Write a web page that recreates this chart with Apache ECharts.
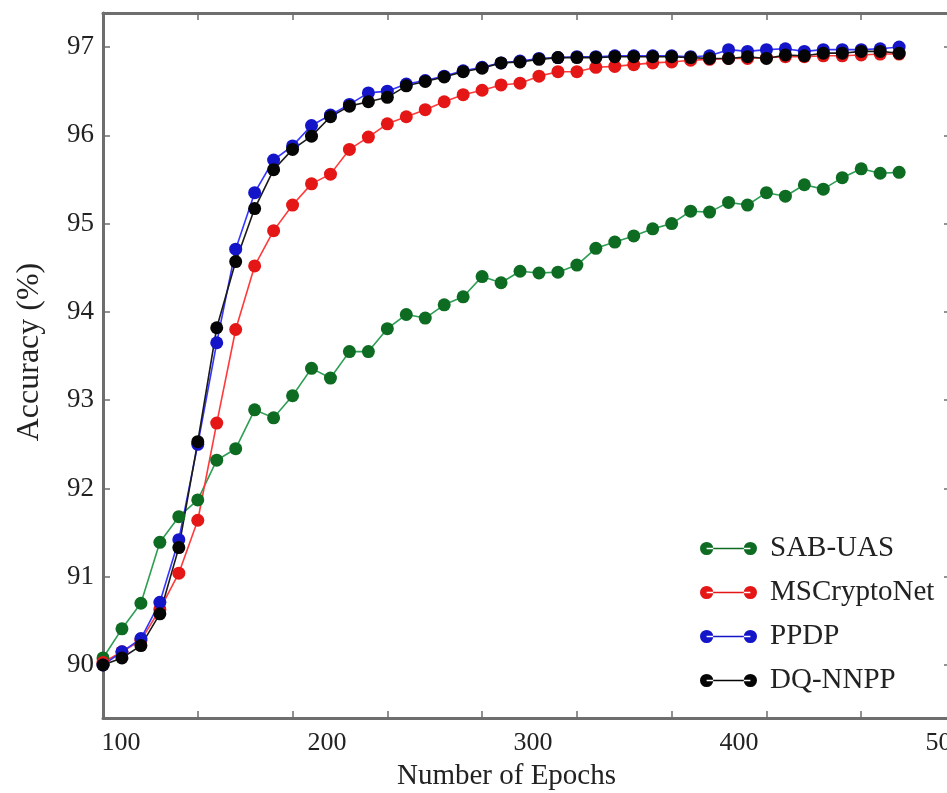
<!DOCTYPE html>
<html>
<head>
<meta charset="utf-8">
<script src="https://cdn.jsdelivr.net/npm/echarts@6/dist/echarts.min.js"></script>
<style>
html, body { margin: 0; padding: 0; background: #fff; }
#main { width: 947px; height: 793px; }
</style>
</head>
<body>
<div id="main"></div>
<script>
var epochs = [90, 100, 110, 120, 130, 140, 150, 160, 170, 180, 190, 200, 210, 220, 230,
    240, 250, 260, 270, 280, 290, 300, 310, 320, 330, 340, 350, 360, 370, 380,
    390, 400, 410, 420, 430, 440, 450, 460, 470, 480, 490, 500, 510];

var sabUas = [90.08, 90.41, 90.70, 91.39, 91.68, 91.87, 92.32, 92.45, 92.89, 92.80,
    93.05, 93.36, 93.25, 93.55, 93.55, 93.81, 93.97, 93.93, 94.08, 94.17,
    94.40, 94.33, 94.46, 94.44, 94.45, 94.53, 94.72, 94.79, 94.86, 94.94,
    95.00, 95.14, 95.13, 95.24, 95.21, 95.35, 95.31, 95.44, 95.39, 95.52,
    95.62, 95.57, 95.58];

var msCryptoNet = [90.03, 90.15, 90.28, 90.63, 91.04, 91.64, 92.74, 93.80, 94.52, 94.92,
    95.21, 95.45, 95.56, 95.84, 95.98, 96.13, 96.21, 96.29, 96.38, 96.46,
    96.51, 96.57, 96.59, 96.67, 96.72, 96.72, 96.77, 96.78, 96.80, 96.82,
    96.83, 96.85, 96.86, 96.87, 96.87, 96.88, 96.89, 96.89, 96.90, 96.90,
    96.91, 96.92, 96.92];

var ppdp = [90.00, 90.15, 90.30, 90.71, 91.42, 92.50, 93.65, 94.71, 95.35, 95.72,
    95.88, 96.11, 96.23, 96.35, 96.48, 96.50, 96.58, 96.62, 96.67, 96.73,
    96.77, 96.82, 96.84, 96.87, 96.88, 96.89, 96.89, 96.90, 96.90, 96.90,
    96.90, 96.89, 96.90, 96.97, 96.95, 96.97, 96.98, 96.95, 96.97, 96.97,
    96.97, 96.98, 97.00];

var dqNnpp = [90.00, 90.08, 90.22, 90.58, 91.33, 92.53, 93.82, 94.57, 95.17, 95.61,
    95.84, 95.99, 96.21, 96.33, 96.38, 96.43, 96.56, 96.61, 96.66, 96.72,
    96.76, 96.82, 96.83, 96.86, 96.88, 96.88, 96.88, 96.89, 96.89, 96.89,
    96.89, 96.88, 96.87, 96.87, 96.89, 96.87, 96.91, 96.90, 96.93, 96.93,
    96.95, 96.95, 96.93];

var seriesNames = ['SAB-UAS', 'MSCryptoNet', 'PPDP', 'DQ-NNPP'];
var xTicks = [140, 190, 240, 290, 340, 390, 440, 490];
var xLabels = [100, 200, 300, 400, 500];
var yTicks = [90, 91, 92, 93, 94, 95, 96, 97];

var serif = 'Liberation Serif';
var axisGray = '#6e6e6e';

function pairs(ys) {
    return epochs.map(function (e, i) { return [e, ys[i]]; });
}

function lineSeries(name, ys, lineColor, dotColor) {
    return {
        name: name,
        type: 'line',
        xAxisIndex: 0,
        yAxisIndex: 0,
        data: pairs(ys),
        symbol: 'circle',
        symbolSize: 13,
        showSymbol: true,
        clip: false,
        lineStyle: { color: lineColor, width: 1.6 },
        itemStyle: { color: dotColor, borderWidth: 0 }
    };
}

var legendIcon = 'path://M0.5,7a6.5,6.5 0 1,0 13,0a6.5,6.5 0 1,0 -13,0Z' +
    'M43.5,7a6.5,6.5 0 1,0 13,0a6.5,6.5 0 1,0 -13,0Z M7,6.2H50V7.8H7Z';

var myChart = echarts.init(document.getElementById('main'), null, { renderer: 'canvas' });

var option = {
    animation: false,
    backgroundColor: '#fff',
    grid: { left: 103, top: 13, width: 853, height: 705, containLabel: false, outerBoundsMode: 'none' },
    legend: {
        orient: 'vertical',
        left: 700,
        top: 534,
        padding: 0,
        itemWidth: 57,
        itemHeight: 14,
        itemGap: 15,
        icon: legendIcon,
        itemStyle: { borderWidth: 0 },
        data: seriesNames,
        textStyle: { fontFamily: serif, fontSize: 29, color: '#222', padding: [0, 0, 0, 8] }
    },
    xAxis: [
        {
            type: 'value',
            position: 'bottom',
            min: 90,
            max: 540,
            name: 'Number of Epochs',
            nameLocation: 'middle',
            nameGap: 44,
            nameTextStyle: { fontFamily: serif, fontSize: 29, color: '#222', padding: [0, 46, 0, 0] },
            axisLine: { show: true, lineStyle: { color: axisGray, width: 3 } },
            axisTick: { show: true, inside: true, length: 7, customValues: xTicks,
                lineStyle: { color: axisGray, width: 1.5 } },
            axisLabel: { show: false },
            splitLine: { show: false }
        },
        {
            // tick label scale of the original figure
            type: 'value',
            position: 'bottom',
            min: 91.26,
            max: 505.33,
            axisLine: { show: false },
            axisTick: { show: false },
            axisLabel: { show: true, customValues: xLabels, margin: 12,
                fontFamily: serif, fontSize: 26, color: '#222' },
            splitLine: { show: false }
        },
        {
            type: 'value',
            position: 'top',
            min: 90,
            max: 540,
            axisLine: { show: true, lineStyle: { color: axisGray, width: 3 } },
            axisTick: { show: true, inside: true, length: 7, customValues: xTicks,
                lineStyle: { color: axisGray, width: 1.5 } },
            axisLabel: { show: false },
            splitLine: { show: false }
        }
    ],
    yAxis: [
        {
            type: 'value',
            position: 'left',
            min: 89.4,
            max: 97.385,
            name: 'Accuracy (%)',
            nameLocation: 'middle',
            nameGap: 57,
            nameTextStyle: { fontFamily: serif, fontSize: 32, color: '#222', padding: [0, 0, 0, 27] },
            axisLine: { show: true, lineStyle: { color: axisGray, width: 3 } },
            axisTick: { show: true, inside: true, length: 7, customValues: yTicks,
                lineStyle: { color: axisGray, width: 1.5 } },
            axisLabel: { show: true, customValues: yTicks, margin: 9,
                fontFamily: serif, fontSize: 27, color: '#222' },
            splitLine: { show: false }
        },
        {
            type: 'value',
            position: 'right',
            min: 89.4,
            max: 97.385,
            axisLine: { show: true, lineStyle: { color: axisGray, width: 3 } },
            axisTick: { show: true, inside: true, length: 12, customValues: yTicks,
                lineStyle: { color: axisGray, width: 1.5 } },
            axisLabel: { show: false },
            splitLine: { show: false }
        }
    ],
    series: [
        lineSeries('SAB-UAS', sabUas, '#2e9e55', '#0d6b22'),
        lineSeries('MSCryptoNet', msCryptoNet, '#ff3a3a', '#e51616'),
        lineSeries('PPDP', ppdp, '#3535ff', '#1414c8'),
        lineSeries('DQ-NNPP', dqNnpp, '#1a1a1a', '#050505')
    ]
};

myChart.setOption(option);
</script>
</body>
</html>
